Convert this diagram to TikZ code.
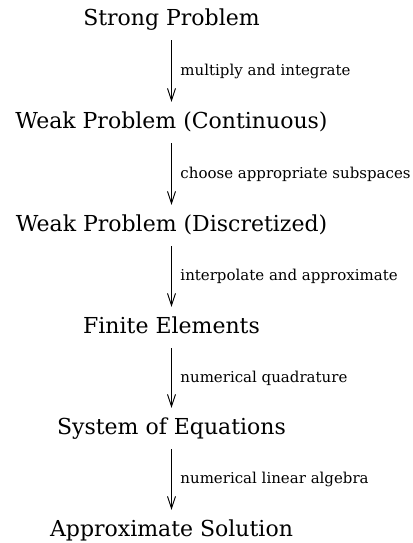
\documentclass[tikz,border=0pt]{standalone}
\usepackage{fontspec}
\setmainfont{DejaVu Serif}
\usetikzlibrary{arrows.meta}
\begin{document}
\begin{tikzpicture}[x=1pt,y=1pt,
  stage/.style={anchor=base, inner xsep=0pt, inner ysep=10pt, text height=17pt, text depth=4pt, font=\fontsize{22}{26}\selectfont},
  flow/.style={draw=black, line width=0.9pt, -{Straight Barb[length=12pt,width=8pt,line width=0.9pt]}},
  why/.style={anchor=west, inner xsep=8.5pt, inner ysep=0pt, font=\fontsize{15}{18}\selectfont}]
\useasboundingbox (0,0) rectangle (412,543);
\node[stage] (s1) at (171.5,517) {Strong Problem};
\node[stage] (s2) at (171.5,414) {Weak Problem (Continuous)};
\node[stage] (s3) at (171.5,311) {Weak Problem (Discretized)};
\node[stage] (s4) at (171.5,209) {Finite Elements};
\node[stage] (s5) at (171.5,108) {System of Equations};
\node[stage] (s6) at (171.5,6) {Approximate Solution};
\draw[flow] (s1) -- node[why] {multiply and integrate} (s2);
\draw[flow] (s2) -- node[why] {choose appropriate subspaces} (s3);
\draw[flow] (s3) -- node[why] {interpolate and approximate} (s4);
\draw[flow] (s4) -- node[why] {numerical quadrature} (s5);
\draw[flow] (s5) -- node[why] {numerical linear algebra} (s6);
\end{tikzpicture}
\end{document}
